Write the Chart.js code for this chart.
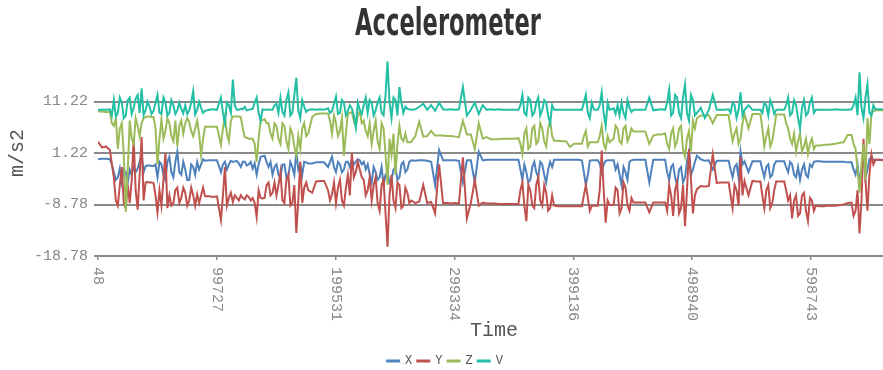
<!DOCTYPE html>
<html lang="en">

<head>
    <meta charset="UTF-8" />
    <title> Accelerometer </title>
    <script src="https://cdn.jsdelivr.net/npm/chart.js@4.4.1/dist/chart.umd.min.js"></script>
    <style>
        body { margin: 0; overflow: hidden; background: #fff; }
        #wrap { position: relative; width: 883px; height: 370px; overflow: hidden; }
        #title {
            position: absolute; left: 0; top: 4px; width: 896px; text-align: center;
            font: bold 37px "DejaVu Sans Condensed", sans-serif;
            line-height: 37px; color: #333; transform: scaleX(0.68);
        }
        canvas { position: absolute; left: 0; top: 0; }
    </style>
</head>

<body>
    <div id="wrap">
        <canvas id="chart" width="896" height="377"></canvas>
        <div id="title">Accelerometer</div>
    </div>
    <script>
        // main sample times (ms)
        const times = [
            48, 3378, 6708, 10038, 13368, 16698, 20028, 23358, 26688, 30018,
            33348, 36678, 40008, 43338, 46668, 49998, 53328, 56658, 59988, 63318,
            66648, 69978, 73308, 76638, 79968, 83298, 86628, 89958, 93288, 96618,
            99948, 103278, 106608, 109938, 113268, 116598, 119928, 123258, 126588, 129918,
            133248, 136578, 139908, 143238, 146568, 149898, 153228, 156558, 159888, 163218,
            166548, 169878, 173208, 176538, 179868, 183198, 186528, 189858, 193188, 196518,
            199848, 203178, 206508, 209838, 213168, 216498, 219828, 223158, 226488, 229818,
            233148, 236478, 239808, 243138, 246468, 249798, 253128, 256458, 259788, 263118,
            266448, 269778, 273108, 276438, 279768, 283098, 286428, 289758, 293088, 296418,
            299748, 303078, 306408, 309738, 313068, 316398, 319728, 323058, 326388, 329718,
            333048, 336378, 339708, 343038, 346368, 349698, 353028, 356358, 359688, 363018,
            366348, 369678, 373008, 376338, 379668, 382998, 386328, 389658, 392988, 396318,
            399648, 402978, 406308, 409638, 412968, 416298, 419628, 422958, 426288, 429618,
            432948, 436278, 439608, 442938, 446268, 449598, 452928, 456258, 459588, 462918,
            466248, 469578, 472908, 476238, 479568, 482898, 486228, 489558, 492888, 496218,
            499548, 502878, 506208, 509538, 512868, 516198, 519528, 522858, 526188, 529518,
            532848, 536178, 539508, 542838, 546168, 549498, 552828, 556158, 559488, 562818,
            566148, 569478, 572808, 576138, 579468, 582798, 586128, 589458, 592788, 596118,
            599448, 602778, 606108, 609438, 612768, 616098, 619428, 622758, 626088, 629418,
            632748, 636078, 639408, 642738, 646068, 649398, 652728, 656058, 659388, 662718
        ];

        const accX = [
            0.0, 0.1, 0.1, 0.0, -2.5, -3.5, -4.5, -2.5, -2.0, -1.5,
            -1.8, 1.0, -1.3, -1.2, -1.3, -3.5, -1.0, -4.0, 0.5, -3.5,
            1.5, -3.0, -2.0, -4.0, -1.5, -0.5, -1.0, -0.3, -0.2, -0.2,
            -0.2, -2.5, -0.5, -1.0, -0.5, -0.3, -1.5, -0.5, -1.0, -1.8,
            -3.0, 0.5, 0.7, -1.5, -3.0, -1.0, -3.5, -1.0, -3.2, -1.5,
            1.5, -1.0, -0.5, -0.8, -0.8, -0.6, -0.6, -0.6, -1.5, 0.5,
            -2.5, -1.0, -2.0, -0.5, 0.0, -0.5, -0.2, -0.5, -1.0, -4.5,
            -2.5, -3.5, -5.0, -2.5, -4.0, -1.5, -3.5, -0.5, -2.0, -0.2,
            -0.3, -0.2, -0.2, -0.3, -0.5, -5.0, 1.8, -0.2, -0.2, -0.2,
            -0.2, -0.3, -4.5, -0.2, -0.2, -4.5, 1.5, -0.2, -0.1, -0.1,
            -0.1, -0.1, -0.1, -0.1, -0.1, -0.1, -0.1, -4.0, -2.5, -4.0,
            -0.5, -3.5, -1.0, -4.5, -0.5, -0.1, -0.1, -0.1, -0.1, -0.1,
            -0.1, -0.1, -0.2, -5.0, -0.3, -0.2, -0.2, -2.5, -0.3, -0.2,
            -0.2, -1.0, -5.0, -2.5, -0.5, -0.1, -0.1, -0.1, -0.1, -4.5,
            -0.1, -0.1, -0.1, -0.1, -4.0, -1.0, -5.0, -1.5, -3.5, 1.5,
            -2.0, 0.7, 0.0, -0.3, -0.2, -2.0, -0.3, -0.3, -0.3, -0.3,
            -3.5, -1.0, 1.5, -0.4, -2.5, -0.4, -0.4, -0.4, -3.5, -1.0,
            -3.0, -0.4, -0.4, -0.4, -2.5, -1.0, -3.5, -4.0, -1.0, -3.5,
            -1.5, -0.4, -0.4, -0.5, -0.5, -0.5, -0.5, -0.5, -0.5, -0.6,
            -0.6, -3.0, -4.5, 1.5, -2.0, 0.5, -0.1, -0.1, -0.1, -0.1
        ];

        const accY = [
            3.4, 2.3, 2.5, 1.8, -3.5, -9.0, -1.5, -9.5, -8.5, 4.0,
            -9.8, 4.3, -4.5, -4.5, -4.6, -10.3, -9.0, 1.2, -7.0, -8.5,
            -5.5, -7.5, -6.5, -8.0, -7.0, -6.8, -7.0, -7.2, -7.2, -7.3,
            -7.2, -11.8, -1.5, -7.5, -8.3, -7.5, -7.0, -7.8, -7.3, -7.5,
            -11.2, -7.5, -7.5, -4.5, -6.5, -7.0, -2.5, -8.5, -3.0, -8.5,
            -14.3, -0.5, -5.5, -6.0, -6.5, -4.3, -4.2, -4.2, -6.0, -6.8,
            -8.5, -4.0, -9.0, -3.0, 1.2, -2.5, -2.0, -4.0, -6.0, -8.0,
            -3.5, -10.0, -4.0, -17.0, -3.0, -9.5, -5.0, -9.0, -6.5, -8.0,
            -8.5, -8.2, -5.0, -8.5, -8.3, -10.5, -1.0, -8.5, -8.5, -8.6,
            -8.5, -8.6, 0.4, -11.5, -8.5, -4.0, -9.0, -8.4, -8.6, -8.6,
            -8.6, -8.7, -8.7, -8.7, -8.7, -8.7, -8.7, -4.5, -12.0, -6.0,
            -9.5, -3.5, -9.0, -6.5, -9.5, -9.0, -9.1, -9.1, -9.1, -9.1,
            -9.1, -9.1, -9.1, -5.0, -10.0, -9.0, -9.0, 1.7, -12.3, -8.9,
            -8.9, -6.0, -9.5, -5.5, -10.0, -8.4, -8.4, -8.4, -8.4, -10.3,
            -8.4, -8.4, -8.4, -8.4, -5.0, -11.0, -4.5, -9.5, -13.0, 2.0,
            -10.5, -5.8, -5.2, -5.3, -5.2, 1.0, -4.6, -4.5, -4.5, -4.5,
            -9.5, -6.0, 0.5, -4.2, -7.0, -4.2, -4.3, -4.3, -9.5, -5.0,
            -8.5, -4.3, -4.3, -4.3, -8.0, -11.5, -7.0, -10.5, -6.5, -12.0,
            -8.0, -9.0, -9.1, -9.1, -9.0, -9.0, -9.0, -8.9, -8.8, -8.5,
            -8.4, -10.0, -14.4, 4.0, -10.0, 1.0, -0.1, -0.1, -0.2, -0.2
        ];

        const accZ = [
            9.3, 9.3, 9.2, 9.2, 6.5, 2.0, 7.0, -10.2, 7.5, 3.0,
            6.5, 7.0, 8.2, 8.3, 8.2, -1.0, 7.8, 5.5, 7.0, 3.5,
            2.5, 7.5, 7.0, 7.2, 4.5, 7.5, 0.8, 6.3, 6.3, 6.3,
            6.3, 2.8, 8.3, 3.5, 8.3, 8.3, 8.2, 4.3, 4.0, 4.0,
            -0.5, 7.5, 7.8, 7.0, 4.0, 6.5, 3.0, 6.5, 2.0, 5.0,
            0.7, 2.0, 7.0, 5.0, 8.2, 8.8, 8.9, 8.9, 8.9, 5.0,
            7.0, 5.5, 0.7, 8.8, 9.2, 6.3, 9.3, 7.5, 4.5, 3.0,
            7.5, 2.0, 6.0, -5.0, 1.0, -3.0, 6.5, 3.5, 3.3, 3.4,
            4.5, 7.3, 4.4, 4.5, 5.5, 4.6, 4.6, 4.6, 4.5, 4.5,
            4.4, 4.3, 7.5, 4.8, 4.8, 2.0, 7.0, 4.0, 4.3, 3.9,
            3.9, 3.9, 4.0, 4.0, 4.0, 4.0, 4.1, 1.0, 6.0, 2.5,
            6.5, 3.5, 6.0, 2.5, 7.5, 3.6, 3.6, 3.5, 3.5, 2.4,
            3.0, 3.0, 3.0, 5.5, 3.3, 3.3, 3.3, 6.5, 2.0, 3.3,
            4.0, 6.0, 3.0, 6.5, 4.5, 5.4, 5.4, 5.4, 5.4, 3.0,
            4.6, 4.8, 4.8, 5.0, 2.0, 6.0, 3.5, 6.5, 0.5, 5.5,
            7.5, 8.0, 8.5, 8.5, 8.6, 7.0, 8.6, 8.6, 8.6, 8.6,
            3.5, 6.0, 4.0, 8.8, 6.0, 8.8, 8.8, 8.8, 2.5, 6.0,
            3.5, 8.7, 8.7, 8.7, 6.0, 3.0, 1.5, 5.0, 2.5, 1.0,
            4.0, 2.7, 2.7, 2.8, 2.8, 2.9, 3.0, 3.2, 3.3, 4.7,
            4.7, 2.0, -6.5, 3.0, 8.0, 9.0, 9.5, 9.5, 9.5, 9.5
        ];

        const accV = [
            9.6, 9.6, 9.6, 9.7, 11.5, 9.0, 11.0, 8.5, 12.0, 10.0,
            12.5, 13.8, 9.5, 10.2, 9.4, 12.5, 8.8, 11.0, 9.0, 10.5,
            9.5, 9.8, 10.5, 9.5, 13.2, 9.6, 10.0, 9.4, 9.6, 9.7,
            9.6, 12.0, 7.0, 10.5, 15.5, 9.6, 9.8, 10.2, 9.6, 9.8,
            12.0, 7.5, 9.6, 9.7, 9.6, 10.8, 12.0, 8.5, 13.0, 9.0,
            15.8, 8.0, 10.2, 9.6, 9.7, 9.6, 9.7, 9.6, 9.9, 9.4,
            12.2, 9.0, 11.0, 9.4, 9.9, 6.2, 9.6, 10.5, 9.0, 11.0,
            9.5, 12.0, 8.5, 19.0, 8.0, 11.5, 14.0, 9.0, 9.8, 9.6,
            9.7, 10.2, 10.8, 9.6, 10.5, 9.4, 11.0, 9.7, 9.6, 9.7,
            9.6, 9.7, 14.0, 8.5, 9.6, 11.0, 8.8, 10.5, 9.6, 9.7,
            9.6, 9.7, 9.6, 9.6, 9.6, 9.6, 9.6, 12.5, 8.5, 11.5,
            9.0, 12.0, 9.5, 11.0, 7.0, 9.6, 9.6, 9.6, 9.6, 9.6,
            9.6, 9.6, 9.6, 12.5, 8.0, 9.7, 9.6, 13.0, 6.5, 9.6,
            9.9, 10.5, 11.0, 8.0, 10.0, 9.6, 9.6, 9.6, 9.6, 12.0,
            9.5, 9.6, 9.7, 9.6, 13.5, 9.0, 12.0, 8.0, 14.5, 7.5,
            11.5, 9.0, 10.0, 8.0, 9.6, 12.5, 9.6, 9.6, 9.6, 9.7,
            11.0, 8.0, 13.0, 9.6, 10.5, 9.6, 9.6, 9.6, 11.0, 8.5,
            10.5, 9.6, 9.6, 9.6, 12.0, 9.0, 10.5, 6.0, 11.5, 9.0,
            12.0, 9.6, 9.6, 9.6, 9.6, 9.6, 9.7, 9.6, 9.6, 9.6,
            9.7, 12.0, 16.9, 8.0, 14.5, 8.5, 9.7, 9.7, 9.7, 9.7
        ];

        // extra samples in the shaky stretches, between the main ones
        const timesMid = [
            11703, 15033, 18363, 21693, 25023, 28353, 31683, 35013, 38343, 41673, 45003, 48333,
            51663, 54993, 58323, 61653, 64983, 68313, 71643, 74973, 78303, 81633, 84963, 88293,
            104943, 108273, 111603, 114933, 118263, 121593, 124923, 128253, 131583, 134913, 138243,
            141573, 144903, 148233, 151563, 154893, 158223, 161553, 164883, 168213, 171543, 174873,
            194853, 198183, 201513, 204843, 208173, 211503, 214833, 218163, 221493, 224823, 228153,
            231483, 234813, 238143, 241473, 244803, 248133, 251463, 254793, 258123, 261453,
            354693, 358023, 361353, 364683, 368013, 371343, 374673, 378003, 381333,
            407973, 411303, 414633, 417963, 421293, 424623, 427953,
            434613, 437943, 441273, 444603, 447933,
            477903, 481233, 484563, 487893, 491223, 494553, 497883, 501213,
            531183, 534513, 537843, 541173,
            557823, 561153, 564483, 567813,
            577803, 581133, 584463, 587793, 591123, 594453, 597783, 601113,
            634413, 637743, 641073, 644403, 647733, 651063
        ];

        const midX = [
            -1.0, -4.0, -1.8, -2.0, -4.5, -3.0, -2.5, -0.5, -2.5, -1.2, -1.3, -1.0,
            -0.5, -3.0, -0.5, -2.5, -0.5, -2.5, -0.5, -4.0, -1.0, -3.0, -2.0, 0.0,
            -1.0, -2.0, -0.3, -0.4, -0.8, -0.5, -1.2, -0.5, -0.8, -1.0, 0.6,
            -0.5, -0.5, -1.5, -3.0, -1.0, -3.5, -0.5, -3.0, -2.0, -3.0, -0.6,
            -0.5, -1.5, -0.5, -2.5, -0.5, -1.5, -1.0, 0.0, -1.0, -2.0, -3.0,
            -1.5, -4.0, -1.5, -3.0, -4.5, -2.0, -4.0, -1.0, -2.5, -0.5,
            -2.0, -1.0, -4.5, -1.5, -2.5, -0.5, -3.0, -2.0, -1.5,
            -2.5, -3.0, -0.2, -0.2, -0.8, -1.0, -0.2,
            -2.0, -3.0, -1.5, -4.0, -0.2,
            -2.5, -1.5, -3.5, -2.0, -4.5, -0.5, -3.0, -0.5,
            -2.0, -1.5, -3.5, -1.0,
            -2.0, -1.5, -3.5, -1.0,
            -1.5, -0.5, -3.0, -1.5, -2.0, -3.0, -1.0, -0.5,
            -2.0, -1.0, -2.0, -3.5, 0.0, -0.2
        ];

        const midY = [
            -1.0, -8.0, -5.0, -8.5, -5.0, -4.0, -6.0, -3.0, -8.0, -4.4, -4.5, -7.0,
            -6.0, -4.0, -9.5, -9.0, -6.0, -8.5, -5.5, -9.0, -5.5, -9.0, -8.5, -5.5,
            -7.0, -9.0, -6.5, -7.0, -8.0, -7.5, -7.0, -8.0, -8.5, -6.0, -7.6,
            -5.0, -7.0, -4.5, -5.0, -8.0, -4.0, -9.0, -5.0, -8.0, -8.5, -4.5,
            -8.0, -4.5, -5.5, -8.0, -5.5, -7.0, -3.5, -0.5, -3.5, -7.0, -3.5,
            -5.0, -8.5, -5.0, -10.5, -7.0, -8.0, -4.5, -9.5, -5.5, -8.5,
            -6.0, -9.0, -5.0, -9.0, -5.0, -8.0, -5.0, -10.0, -7.0,
            -7.0, -7.5, -9.0, -9.0, -6.0, -6.0, -8.0,
            -5.5, -10.5, -4.5, -9.0, -7.5,
            -10.0, -7.0, -6.0, -10.5, -5.0, -6.0, -4.0, -7.0,
            -7.0, -5.0, -9.0, -7.0,
            -7.0, -6.0, -9.5, -6.0,
            -6.0, -7.0, -8.0, -11.0, -7.0, -10.0, -7.5, -10.0,
            -11.0, -6.0, -8.0, -4.0, -3.0, -1.0
        ];

        const midZ = [
            7.0, 8.0, 6.0, 1.0, -2.0, 4.0, 8.0, 4.5, 8.0, 8.3, 8.2, 6.0,
            4.0, 4.0, 8.0, 4.5, 7.5, 6.5, 5.0, 8.0, 5.5, 6.0, 5.0, 4.0,
            6.0, 5.0, 7.5, 8.3, 8.3, 6.0, 4.2, 4.0, 3.0, 4.0, 7.6,
            7.0, 5.0, 7.0, 4.0, 7.0, 3.5, 6.0, 2.5, 4.5, 6.0, 4.5,
            7.5, 8.5, 4.5, 8.0, 5.0, 9.0, 7.5, 8.5, 7.0, 5.5, 7.0,
            5.5, 3.5, 7.0, 1.0, 4.0, 5.0, 3.0, 4.0, 5.0, 3.3,
            3.0, 5.0, 2.0, 6.0, 3.0, 7.0, 3.5, 6.0, 4.5,
            4.5, 2.5, 3.3, 3.3, 4.5, 3.0, 4.5,
            6.5, 3.5, 6.0, 3.5, 6.0,
            3.0, 5.0, 2.5, 6.0, 2.0, 4.0, 1.5, 6.0,
            6.0, 5.0, 3.0, 7.0,
            6.0, 4.5, 2.5, 6.0,
            7.0, 4.0, 5.0, 3.5, 1.5, 4.0, 3.0, 2.0,
            3.0, -2.0, -1.0, -4.0, 3.0, 9.3
        ];

        const midV = [
            8.5, 8.3, 12.0, 8.0, 11.5, 8.8, 11.8, 9.0, 8.6, 11.2, 8.8, 11.0,
            9.0, 12.0, 8.5, 11.5, 8.8, 11.0, 8.9, 8.8, 11.0, 8.7, 11.2, 9.0,
            9.0, 11.0, 9.0, 10.5, 9.6, 9.7, 9.5, 9.7, 11.0, 9.0, 9.7,
            9.6, 9.6, 10.5, 9.0, 9.2, 11.5, 8.5, 12.5, 9.5, 11.5, 9.2,
            9.0, 10.8, 8.8, 11.5, 8.5, 10.5, 8.5, 11.0, 8.8, 12.0, 11.5,
            8.5, 11.0, 9.0, 12.5, 11.0, 12.0, 8.5, 11.0, 10.2, 9.7,
            10.5, 9.0, 12.0, 8.5, 11.0, 8.5, 11.5, 8.5, 10.5,
            11.0, 9.0, 11.0, 9.6, 10.5, 9.0, 11.0,
            8.8, 8.5, 9.0, 11.5, 9.2,
            11.0, 8.5, 12.5, 9.0, 12.0, 9.0, 12.5, 8.5,
            9.0, 10.5, 9.5, 8.5,
            9.0, 10.5, 11.5, 8.8,
            10.5, 8.5, 11.5, 8.0, 10.0, 8.5, 11.0, 9.0,
            10.5, 8.5, 10.0, 12.0, 9.0, 10.5
        ];

        const seriesNames = ['X', 'Y', 'Z', 'V'];
        const seriesColors = ['#4f81bd', '#c0504d', '#9bbb59', '#23bfa5'];
        const xTickLabels = [48, 99727, 199531, 299334, 399136, 498940, 598743];
        const yTickLabels = [-18.78, -8.78, 1.22, 11.22];

        const mono = '"Liberation Mono", "Courier New", monospace';

        // x labels read top-to-bottom in the original, so draw them turned clockwise
        const clockwiseLabels = {
            id: 'clockwiseLabels',
            afterDraw(chart) {
                const xs = chart.scales.x;
                const ctx = chart.ctx;
                ctx.save();
                ctx.font = '15px ' + mono;
                ctx.fillStyle = '#888';
                ctx.textAlign = 'left';
                ctx.textBaseline = 'middle';
                xTickLabels.forEach(v => {
                    ctx.save();
                    ctx.translate(xs.getPixelForValue(v), xs.top + 11);
                    ctx.rotate(Math.PI / 2);
                    ctx.fillText(String(v), 0, 0);
                    ctx.restore();
                });
                ctx.restore();
            }
        };

        // join main + extra samples, in time order
        function points(main, mid) {
            return times.map((t, i) => ({ x: t, y: main[i] }))
                .concat(timesMid.map((t, i) => ({ x: t, y: mid[i] })))
                .sort((a, b) => a.x - b.x);
        }

        const mains = [accX, accY, accZ, accV];
        const mids = [midX, midY, midZ, midV];
        const datasets = mains.map((vals, k) => ({
            label: seriesNames[k],
            data: points(vals, mids[k]),
            borderColor: seriesColors[k],
            backgroundColor: seriesColors[k],
            borderWidth: 2,
            pointRadius: 0,
            tension: 0,
            fill: false,
            order: 4 - k
        }));

        new Chart(document.getElementById('chart'), {
            type: 'line',
            data: { datasets },
            plugins: [clockwiseLabels],
            options: {
                responsive: false,
                animation: false,
                layout: { padding: { top: 50, left: 0, right: 6, bottom: 0 } },
                plugins: {
                    tooltip: { enabled: false },
                    legend: {
                        position: 'bottom',
                        labels: {
                            font: { family: mono, size: 12 },
                            color: '#555',
                            boxWidth: 12,
                            boxHeight: 1,
                            padding: 5,
                            sort: (a, b) => a.datasetIndex - b.datasetIndex
                        }
                    }
                },
                scales: {
                    x: {
                        type: 'linear',
                        min: 48,
                        max: 665000,
                        afterBuildTicks: s => { s.ticks = xTickLabels.map(v => ({ value: v })); },
                        afterFit: s => { s.height = 94; },
                        ticks: {
                            autoSkip: false,
                            minRotation: 90,
                            maxRotation: 90,
                            padding: 7,
                            color: 'rgba(0,0,0,0)',
                            font: { family: mono, size: 15 },
                            callback: v => String(v)
                        },
                        grid: { drawOnChartArea: false, tickLength: 4, color: '#8a8a8a', lineWidth: 1.5 },
                        border: { display: true, color: '#8a8a8a', width: 2 },
                        title: {
                            display: true, text: 'Time', color: '#555',
                            font: { family: mono, size: 20 },
                            padding: { top: 0, bottom: 7 }
                        }
                    },
                    y: {
                        min: -18.78,
                        max: 21.22,
                        afterBuildTicks: s => { s.ticks = yTickLabels.map(v => ({ value: v })); },
                        afterFit: s => { s.width = 98; },
                        ticks: {
                            padding: 6,
                            color: '#888',
                            font: { family: mono, size: 15 },
                            callback: v => v.toFixed(2)
                        },
                        grid: { color: '#8a8a8a', lineWidth: 2, tickLength: 4 },
                        border: { display: false },
                        title: {
                            display: true, text: 'm/s2', color: '#555',
                            font: { family: mono, size: 20 },
                            padding: { top: 6, bottom: 4 }
                        }
                    }
                }
            }
        });
    </script>
</body>

</html>
